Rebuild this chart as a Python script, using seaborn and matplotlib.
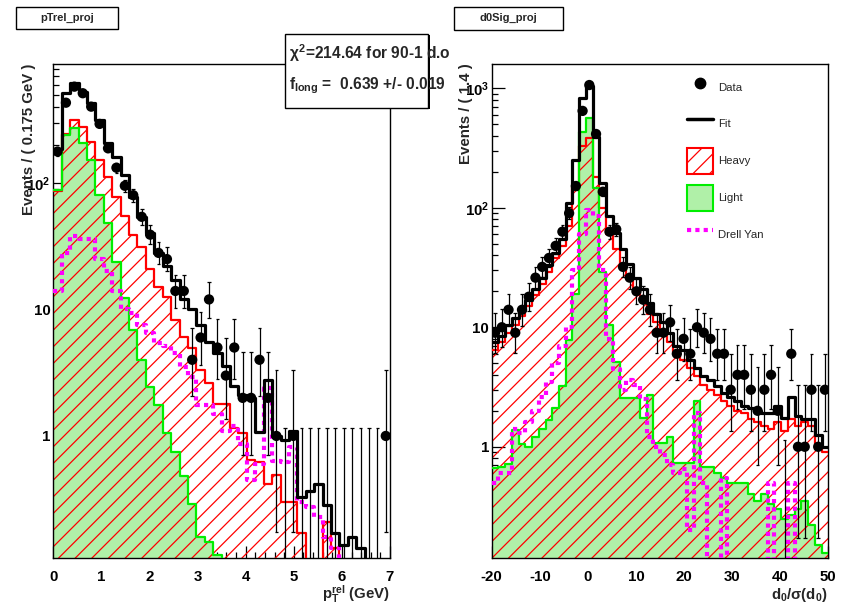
import math
import numpy as np
import pandas as pd
import matplotlib
matplotlib.use("Agg")
import matplotlib.pyplot as plt
import seaborn as sns
from matplotlib.patches import Rectangle, Patch
from matplotlib.lines import Line2D
from matplotlib.ticker import FixedLocator, FixedFormatter, NullFormatter

# ---------------- data ----------------
# pTrel panel: 40 bins of 0.175 GeV from 0 to 7
pt_lo, pt_hi, pt_nb = 0.0, 7.0, 40
pt_data = [177, 431, 577, 512, 401, 293, 188, 132, 95, 80, 54, 39, 28, 25, 14, 14, 4, 6, 12, 5,
           3, 5, 2, 2, 4, 2, 1, 0, 1, 0, 0, 0, 0, 0, 0, 0, 0, 0, 0, 1]
pt_fit = [185, 512, 621, 527, 427, 315, 206, 161, 115, 78, 54, 40, 28, 22, 17, 12, 10, 7.5, 5.5, 4.5,
          3.6, 2.5, 2.1, 2.0, 1.08, 2.77, 1.0, 0.93, 1.1, 0.33, 0.37, 0.42, 0.285, 0.17, 0.137, 0.16, 0.13, 0.09, 0.08, 0.07]
pt_heavy = [87, 244, 315, 279, 211, 151, 112, 77, 55, 39, 31, 21, 15, 12.5, 8.3, 6.1, 5.0, 3.3, 2.6, 1.8,
            1.8, 1.15, 1.05, 0.65, 0.62, 0.42, 0.49, 0.3, 0.3, 0.17, 0.09, 0.09, 0.21, 0.13, 0.09, 0.05, 0.05, 0.05, 0.05, 0.05]
pt_light = [88, 240, 274, 208, 152, 80, 48, 23.9, 12.3, 6.9, 4.0, 2.45, 1.76, 1.05, 0.75, 0.48, 0.29, 0.16, 0.146, 0.115,
            0.05, 0.05, 0.05, 0.05, 0.05, 0.05, 0.05, 0.05, 0.05, 0.05, 0.05, 0.05, 0.05, 0.05, 0.05, 0.05, 0.05, 0.05, 0.05, 0.05]
pt_dy = [14, 28, 38, 36, 36, 25, 20, 14, 10, 9.4, 7.5, 6.5, 5.4, 5.1, 4.5, 3.5, 2.9, 1.76, 1.76, 1.5,
         1.1, 1.2, 0.87, 0.45, 0.6, 2.4, 0.63, 0.62, 0.82, 0.3, 0.276, 0.23, 0.16, 0.13, 0.05, 0.05, 0.05, 0.05, 0.05, 0.05]

# d0 significance panel: 50 bins of 1.4 from -20 to 50
d0_lo, d0_hi, d0_nb = -20.0, 50.0, 50
d0_data = [9, 10, 14, 9, 14, 18, 26, 32, 38, 48, 63, 90, 152, 646, 1063, 414, 136, 63, 66, 32,
           26, 20, 17, 14, 9, 9, 11, 6, 8, 6, 10, 9, 8, 6, 6, 3, 4, 4, 3, 2,
           3, 4, 2, 0, 6, 1, 1, 3, 1, 3]
d0_fit = [7.5, 8.5, 10.5, 12, 14, 17, 21, 26, 33, 42, 55, 110, 250, 830, 1050, 390, 160, 85, 62, 45,
          34, 26, 21, 16, 13, 11, 9, 7, 6.4, 5.3, 4.6, 3.9, 3.6, 3.2, 2.8, 2.6, 2.4, 2.2, 2.1, 2.0,
          1.9, 1.9, 2.2, 1.75, 2.6, 1.8, 1.7, 1.7, 1.25, 1.0]
d0_heavy = [6.5, 7.5, 9, 10.5, 12.5, 15, 18.5, 23, 29, 38, 48, 70, 148, 330, 380, 181, 100, 60, 45, 34,
            27, 21, 17, 13, 11, 9, 7.5, 6.2, 5.3, 4.6, 3.9, 3.3, 3.0, 2.7, 2.4, 2.2, 2.0, 1.9, 1.7, 1.6,
            1.5, 1.4, 1.6, 1.35, 1.7, 1.5, 1.6, 1.5, 1.0, 0.9]
d0_light = [0.66, 0.68, 0.72, 1.38, 1.05, 1.0, 1.2, 1.4, 1.67, 2.1, 3.2, 7.8, 19, 432, 560, 146, 29, 10.4, 5.1, 2.54,
            2.54, 2.54, 1.73, 2.7, 1.07, 1.07, 1.2, 0.73, 0.73, 0.73, 2.4, 0.68, 0.68, 0.6, 0.55, 0.5, 0.5, 0.5, 0.4, 0.35,
            0.4, 0.33, 0.3, 0.25, 0.27, 0.3, 0.35, 0.22, 0.15, 0.13]
d0_dy = [0.5, 0.6, 0.6, 1.4, 1.3, 1.6, 2.0, 2.6, 3.5, 5, 7, 10, 30, 60, 95, 85, 30, 8, 4.5, 3,
         3.6, 3.3, 2.5, 1.2, 1.0, 0.85, 0.7, 0.6, 0.65, 0.2, 1.9, 0.5, 0.05, 0.1, 0.55, 0.05, 0.05, 0.05, 0.05, 0.05,
         0.05, 0.5, 0.05, 0.05, 0.5, 0.05, 0.05, 0.05, 0.05, 0.05]

# ---------------- style ----------------
sns.set_theme(style="white")
plt.rcParams["font.family"] = ["Liberation Sans", "DejaVu Sans"]
plt.rcParams["mathtext.fontset"] = "custom"
plt.rcParams["mathtext.rm"] = "Liberation Sans:bold"
plt.rcParams["mathtext.bf"] = "Liberation Sans:bold"
plt.rcParams["mathtext.it"] = "Liberation Sans:bold"
plt.rcParams["mathtext.sf"] = "Liberation Sans:bold"
plt.rcParams["hatch.linewidth"] = 0.9

RED, GREEN, MAG = "#ff0000", "#00ee00", "#ff00ff"
LIGHTFILL = "#b0f0a8"

W, H = 843, 607
fig = plt.figure(figsize=(W / 100, H / 100), dpi=100)
fig.patch.set_facecolor("white")


def fx(px):
    return px / W


def fy(py):
    return 1 - py / H


AX_TOP, AX_BOT = 64.3, 557.7
axL = fig.add_axes([fx(53.3), fy(AX_BOT), (390.0 - 53.3) / W, (AX_BOT - AX_TOP) / H])
axR = fig.add_axes([fx(491.7), fy(AX_BOT), (828.3 - 491.7) / W, (AX_BOT - AX_TOP) / H])

FLOOR = 1e-4


def pois_cdf(k, mu):
    if k < 0:
        return 0.0
    i = np.arange(k + 1)
    lg = np.array([math.lgamma(j + 1) for j in i])
    logp = -mu + i * math.log(mu) - lg
    m = logp.max()
    return float(np.exp(m) * np.exp(logp - m).sum())


def garwood(n):
    a = 0.158655
    if n == 0:
        return 0.0, -math.log(2 * a)
    lo, hi = 1e-9, n + 10 * math.sqrt(n) + 10
    for _ in range(70):
        mid = 0.5 * (lo + hi)
        if 1 - pois_cdf(n - 1, mid) < a:
            lo = mid
        else:
            hi = mid
    mlo = 0.5 * (lo + hi)
    lo, hi = float(n), n + 10 * math.sqrt(n) + 10
    for _ in range(70):
        mid = 0.5 * (lo + hi)
        if pois_cdf(n, mid) > a:
            lo = mid
        else:
            hi = mid
    return mlo, 0.5 * (lo + hi)


def draw_panel(ax, lo, hi, nb, data, fit, heavy, light, dy, ylim):
    edges = np.linspace(lo, hi, nb + 1)
    centers = 0.5 * (edges[:-1] + edges[1:])
    ex = edges

    def ext(v):
        v = np.clip(np.asarray(v, float), FLOOR, None)
        return np.append(v, v[-1])

    # filled components
    ax.fill_between(ex, ext(light), FLOOR, step="post", facecolor=LIGHTFILL, edgecolor="none", zorder=1)
    ax.fill_between(ex, ext(heavy), FLOOR, step="post", facecolor="none", edgecolor=RED,
                    hatch="//", linewidth=0, zorder=2)

    def line(v, color, lw, z, ls="-"):
        df = pd.DataFrame({"x": ex, "y": ext(v)})
        sns.lineplot(data=df, x="x", y="y", ax=ax, color=color, linewidth=lw, estimator=None,
                     sort=False, drawstyle="steps-post", zorder=z, linestyle=ls, legend=False)

    line(heavy, RED, 1.6, 3)
    line(light, GREEN, 1.6, 3)
    line(dy, MAG, 3.0, 4, ls=(0, (1, 1)))
    line(fit, "black", 2.3, 5)

    # data with Poisson errors
    data = np.asarray(data)
    lows, highs = [], []
    for n in data:
        l, h = garwood(int(n))
        lows.append(max(l, FLOOR))
        highs.append(h)
    ax.vlines(centers, lows, highs, color="black", linewidth=0.9, zorder=6)
    capw = (hi - lo) * 0.0055
    ax.hlines(highs, centers - capw, centers + capw, color="black", linewidth=0.9, zorder=6)
    low_mask = data > 0
    ax.hlines(np.array(lows)[low_mask], centers[low_mask] - capw, centers[low_mask] + capw,
              color="black", linewidth=0.9, zorder=6)
    dfp = pd.DataFrame({"x": centers[low_mask], "y": data[low_mask]})
    sns.scatterplot(data=dfp, x="x", y="y", ax=ax, color="black", s=55, edgecolor="none",
                    zorder=7, legend=False)

    ax.set_yscale("log", nonpositive="clip")
    ax.set_xlim(lo, hi)
    ax.set_ylim(*ylim)
    ax.set_xlabel("")
    ax.set_ylabel("")
    for sp in ax.spines.values():
        sp.set_color("black")
        sp.set_linewidth(1.0)
        sp.set_visible(True)
    ax.set_facecolor("white")
    ax.tick_params(axis="both", which="both", direction="in", top=False, right=False,
                   bottom=True, left=True, colors="black", labelsize=10.5, width=0.9)
    ax.tick_params(axis="both", which="major", length=9)
    ax.tick_params(axis="both", which="minor", length=4.5)
    ax.tick_params(axis="x", which="major", pad=9)
    ax.tick_params(axis="y", which="major", pad=2)


draw_panel(axL, pt_lo, pt_hi, pt_nb, pt_data, pt_fit, pt_heavy, pt_light, pt_dy, (0.109, 867))
draw_panel(axR, d0_lo, d0_hi, d0_nb, d0_data, d0_fit, d0_heavy, d0_light, d0_dy, (0.118, 1585))

# ticks
pt_ticks = [0, 1, 2, 3, 4, 5, 6, 7]
d0_ticks = [-20, -10, 0, 10, 20, 30, 40, 50]
axL.xaxis.set_major_locator(FixedLocator(pt_ticks))
axL.xaxis.set_major_formatter(FixedFormatter([str(t) for t in pt_ticks]))
axL.xaxis.set_minor_locator(FixedLocator(np.arange(0, 7.01, 0.2)))
axR.xaxis.set_major_locator(FixedLocator(d0_ticks))
axR.xaxis.set_major_formatter(FixedFormatter([str(t) for t in d0_ticks]))
axR.xaxis.set_minor_locator(FixedLocator(np.arange(-20, 50.01, 2)))

ylabels = {1: "1", 10: "10", 100: r"10$^{\mathbf{2}}$", 1000: r"10$^{\mathbf{3}}$"}
minors = [m * 10.0 ** e for e in range(-1, 4) for m in range(2, 10)]
for ax, majors in ((axL, [1, 10, 100]), (axR, [1, 10, 100, 1000])):
    ax.yaxis.set_major_locator(FixedLocator(majors))
    ax.yaxis.set_major_formatter(FixedFormatter([ylabels[m] for m in majors]))
    ax.yaxis.set_minor_locator(FixedLocator(minors))
    ax.yaxis.set_minor_formatter(NullFormatter())
    for lab in ax.get_xticklabels() + ax.get_yticklabels():
        lab.set_fontweight("bold")
        lab.set_fontsize(10.8)

# axis titles
fig.text(fx(29), fy(AX_TOP - 1), "Events / ( 0.175 GeV )", rotation=90, ha="center", va="top",
         fontsize=10.8, fontweight="bold")
fig.text(fx(466), fy(AX_TOP - 1), "Events / ( 1.4 )", rotation=90, ha="center", va="top",
         fontsize=10.8, fontweight="bold")
fig.text(fx(390), fy(598.5), r"p$_{\mathbf{T}}^{\mathbf{rel}}$ (GeV)", ha="right", va="baseline",
         fontsize=10.8, fontweight="bold")
fig.text(fx(828), fy(598.5), r"d$_{\mathbf{0}}$/$\sigma$(d$_{\mathbf{0}}$)", ha="right", va="baseline",
         fontsize=10.8, fontweight="bold")


# title boxes
def pave(x0, y0, x1, y1, shadow=2):
    sh = Rectangle((fx(x0 + shadow), fy(y1 + shadow)), (x1 - x0) / W, (y1 - y0) / H,
                   transform=fig.transFigure, facecolor="black", edgecolor="none", zorder=20)
    bx = Rectangle((fx(x0), fy(y1)), (x1 - x0) / W, (y1 - y0) / H, transform=fig.transFigure,
                   facecolor="white", edgecolor="black", linewidth=1.0, zorder=21)
    fig.add_artist(sh)
    fig.add_artist(bx)


pave(16, 6.7, 118, 28.5, shadow=1.2)
fig.text(fx(67), fy(17.8), "pTrel_proj", ha="center", va="center", fontsize=8, fontweight="bold", zorder=22)
pave(454, 6.7, 562.5, 29.5, shadow=1.2)
fig.text(fx(508), fy(18.3), "d0Sig_proj", ha="center", va="center", fontsize=8, fontweight="bold", zorder=22)

# fit result box
pave(285, 34.3, 428.3, 107.7, shadow=1.2)
fig.text(fx(289), fy(53), r"$\chi^{2}$=214.64 for 90-1 d.o", ha="left", va="center", fontsize=11.2,
         fontweight="bold", zorder=22)
fig.text(fx(289), fy(86), r"f$_{\mathbf{long}}$ =  0.639 +/- 0.019", ha="left", va="center", fontsize=11.2,
         fontweight="bold", zorder=22)

# legend
handles = [
    Line2D([], [], marker="o", color="black", linestyle="none", markersize=7.5),
    Line2D([], [], color="black", linewidth=2.5),
    Patch(facecolor="white", edgecolor=RED, hatch="//", linewidth=1.5),
    Patch(facecolor=LIGHTFILL, edgecolor=GREEN, linewidth=1.5),
    Line2D([], [], color=MAG, linewidth=3.0, linestyle=(0, (1, 1))),
]
labels = ["Data", "Fit", "Heavy", "Light", "Drell Yan"]
leg = axR.legend(handles, labels, loc="upper left", bbox_to_anchor=(fx(681), fy(68.7)),
                 bbox_transform=fig.transFigure, frameon=False, fontsize=8.2, handlelength=2.3,
                 handleheight=3.13, labelspacing=0.95, handletextpad=0.45, borderpad=0)
leg.set_zorder(30)

fig.savefig("out.png", dpi=100, facecolor="white")
